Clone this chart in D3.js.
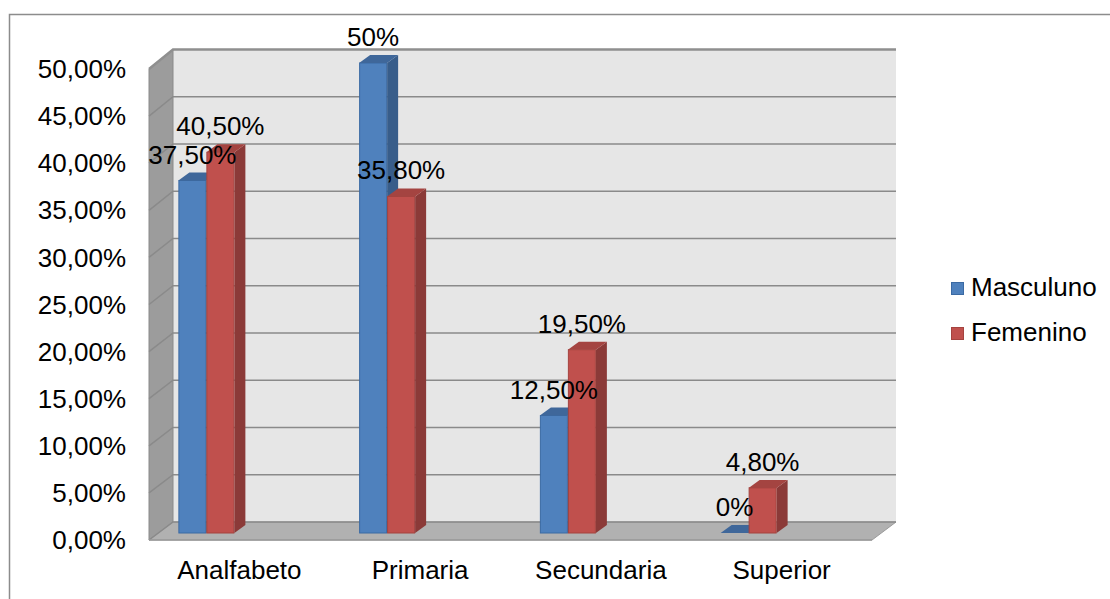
<!DOCTYPE html>
<html>
<head>
<meta charset="utf-8">
<script src="https://cdn.jsdelivr.net/npm/d3@7"></script>
<style>
  html, body { margin: 0; padding: 0; background: #fff; }
  svg { display: block; font-family: "Liberation Sans", Arial, sans-serif; }
</style>
</head>
<body>
<svg id="chart" width="1110" height="599"></svg>
<script>
// Nivel de instrucción por sexo
const categories = ["Analfabeto", "Primaria", "Secundaria", "Superior"];
const seriesNames = ["Masculuno", "Femenino"];
const masculino = [37.5, 50, 12.5, 0];
const femenino = [40.5, 35.8, 19.5, 4.8];
const yTicks = [0, 5, 10, 15, 20, 25, 30, 35, 40, 45, 50];

const seriesValues = [masculino, femenino];
const colors = [
  { front: "#4F81BD", side: "#385D8A", top: "#3F679A", stroke: "#3B6AA3" },
  { front: "#C0504D", side: "#8B3A38", top: "#A44441", stroke: "#A5433F" }
];

const svg = d3.select("#chart");

// Outer chart frame (top and left edges visible)
svg.append("path")
  .attr("d", "M9.5,599 L9.5,14.5 L1110,14.5")
  .attr("fill", "none").attr("stroke", "#8c8c8c").attr("stroke-width", 1.5);

// 3D box geometry
const frontL = 149, frontR = 872;
const depthX = 24, depthY = 18;
const backL = frontL + depthX, backR = frontR + depthX;

// Value scales: front edge (axis labels), back wall (gridlines), bar plane
const yFront = d3.scaleLinear().domain([0, 50]).range([540, 69]);
const yBack = d3.scaleLinear().domain([0, 50]).range([522, 49.5]);
const yBar = d3.scaleLinear().domain([0, 50]).range([533, 63]);

// Back wall
svg.append("rect")
  .attr("x", backL).attr("y", yBack(50))
  .attr("width", backR - backL).attr("height", yBack(0) - yBack(50))
  .attr("fill", "#e6e6e6");

// Left wall
svg.append("polygon")
  .attr("points", [
    [frontL, yFront(50)], [backL, yBack(50)], [backL, yBack(0)], [frontL, yFront(0)]
  ].map(p => p.join(",")).join(" "))
  .attr("fill", "#9c9c9c").attr("stroke", "#8a8a8a").attr("stroke-width", 1);

// Floor
svg.append("polygon")
  .attr("points", [
    [frontL, yFront(0)], [backL, yBack(0)], [backR, yBack(0)], [frontR, yFront(0)]
  ].map(p => p.join(",")).join(" "))
  .attr("fill", "#b1b1b1").attr("stroke", "#9a9a9a").attr("stroke-width", 1);

// Gridlines across back wall and left wall
const grid = svg.append("g");
yTicks.forEach(t => {
  grid.append("path")
    .attr("d", `M${frontL},${yFront(t)} L${backL},${yBack(t)} L${backR},${yBack(t)}`)
    .attr("fill", "none")
    .attr("stroke", t === 50 ? "#8f8f8f" : "#8a8a8a")
    .attr("stroke-width", t === 50 ? 2.5 : 1.5);
});
// Floor front edge
svg.append("line")
  .attr("x1", frontL).attr("x2", frontR)
  .attr("y1", yFront(0)).attr("y2", yFront(0))
  .attr("stroke", "#9a9a9a").attr("stroke-width", 1.5);

// Y axis labels
const fmtTick = v => v.toFixed(2).replace(".", ",") + "%";
svg.append("g").selectAll("text")
  .data(yTicks).join("text")
  .attr("x", 126).attr("y", d => yFront(d))
  .attr("dy", "0.35em")
  .attr("text-anchor", "end")
  .attr("font-size", 26)
  .attr("fill", "#000")
  .text(fmtTick);

// Category axis labels
const xCat = d3.scaleBand().domain(categories).range([frontL, frontR]);
svg.append("g").selectAll("text")
  .data(categories).join("text")
  .attr("x", d => xCat(d) + xCat.bandwidth() / 2)
  .attr("y", 579)
  .attr("text-anchor", "middle")
  .attr("font-size", 26)
  .attr("fill", "#000")
  .text(d => d);

// Bars sit at mid-depth, shifted relative to the front edge
const xBar = d3.scaleBand().domain(categories).range([frontL - 33, frontR - 33]);
const xSub = d3.scaleBand().domain([0, 1]).range([-28, 28]);
const barDX = 11, barDY = 8;

const fmtLabel = v => (Number.isInteger(v) ? String(v) : v.toFixed(2).replace(".", ",")) + "%";

const bars = svg.append("g");
const labels = [];
categories.forEach((cat, ci) => {
  seriesValues.forEach((vals, si) => {
    const v = vals[ci];
    const c = colors[si];
    const x0 = xBar(cat) + xBar.bandwidth() / 2 + xSub(si);
    const x1 = x0 + xSub.bandwidth();
    const yt = yBar(v), yb = yBar(0);
    const g = bars.append("g");
    if (v > 0) {
      // side face
      g.append("polygon")
        .attr("points", [[x1, yt], [x1 + barDX, yt - barDY], [x1 + barDX, yb - barDY], [x1, yb]]
          .map(p => p.join(",")).join(" "))
        .attr("fill", c.side);
      // front face
      g.append("rect")
        .attr("x", x0 + 0.5).attr("y", yt)
        .attr("width", x1 - x0 - 1).attr("height", yb - yt)
        .attr("fill", c.front).attr("stroke", c.stroke).attr("stroke-width", 1);
    }
    // top face
    g.append("polygon")
      .attr("points", [[x0, yt], [x1, yt], [x1 + barDX, yt - barDY], [x0 + barDX, yt - barDY]]
        .map(p => p.join(",")).join(" "))
      .attr("fill", c.top);
    labels.push({ x: (x0 + x1) / 2, y: yt - 17, text: fmtLabel(v) });
  });
});

// Data labels
svg.append("g").selectAll("text")
  .data(labels).join("text")
  .attr("x", d => d.x).attr("y", d => d.y)
  .attr("text-anchor", "middle")
  .attr("font-size", 26)
  .attr("fill", "#000")
  .text(d => d.text);

// Legend
const legend = svg.append("g");
seriesNames.forEach((name, i) => {
  const y = 282 + i * 45;
  legend.append("rect")
    .attr("x", 951.5).attr("y", y + 0.5)
    .attr("width", 12).attr("height", 12)
    .attr("fill", colors[i].front).attr("stroke", colors[i].stroke);
  legend.append("text")
    .attr("x", 971).attr("y", y + 14)
    .attr("font-size", 26)
    .attr("fill", "#000")
    .text(name);
});
</script>
</body>
</html>
